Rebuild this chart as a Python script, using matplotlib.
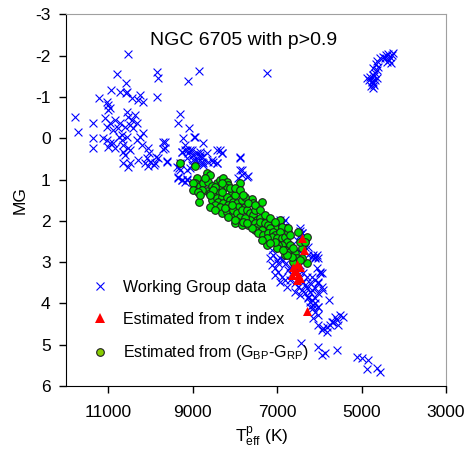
import matplotlib
matplotlib.use("Agg")
import matplotlib.pyplot as plt
from matplotlib.lines import Line2D

plt.rcParams['font.family'] = ['Liberation Sans', 'DejaVu Sans']
plt.rcParams['mathtext.fontset'] = 'custom'
plt.rcParams['mathtext.rm'] = 'Liberation Sans'
plt.rcParams['mathtext.it'] = 'Liberation Sans'
plt.rcParams['axes.unicode_minus'] = False

# ---- Working Group data (blue crosses): Teff, MG ----
wg_teff = [
    # hot upper-left group
    10530, 10790, 10570, 9840, 9820, 10930, 10720, 10550, 10570, 9840,
    10430, 10240, 10290, 10170, 11210, 11020, 11000, 10950, 11000, 11780,
    11710, 11360, 11360, 11360, 11070, 11020, 10950, 10880, 10830, 10550,
    10530, 10430, 10360, 10310, 10410, 10480, 10600, 10720, 10760, 10670,
    10550, 11120, 11020, 10950, 11000, 10880, 10830, 10740, 10670, 10650,
    10530, 10310, 10240, 10170, 10190, 10650, 10600, 10480, 10650, 10480,
    10290, 10530, 10050, 10030, 10080, 10010, 10120, 10050, 9820, 9700,
    9650, 9600, 9910, 9110, 8850, 7240, 9300, 9340, 9080, 9220,
    8940, 9250, 9130, 9180, 9060, 8990, 8940, 8820, 8780, 8750,
    8660, 8520, 8420, 8350, 8300, 9010, 7880, 7830, 7690, 7920,
    9340, 9250, 9130, 8990, 9320, 9300, 8820, 9650, 9700, 9600,
    9864, 9888, 8960, 8750,
    # around the upper main sequence
    9248, 9177, 9106, 9012, 8988, 8893, 8822, 8775, 9130, 8988,
    8870, 8751, 8633, 8538, 8420, 8302, 7876, 9367, 9296, 9130,
    9059, 8420, 7876, 7828, 7710, 9343, 9248, 9177, 9130, 6858,
    6810, 6929, 6858, 6455, 6408, 6526, 6266, 6100,
    # turnoff region
    6929, 6455, 6408, 6337, 6100, 6052, 5982, 5935, 7047, 6929,
    6858, 6976, 6030, 5935, 5910, 6266, 6171, 6100, 6219, 6147,
    6030, 5760, 6503, 6266, 6147, 6030, 6692, 6621, 6503, 6384,
    6290, 6171, 6100, 6030, 6219, 6384, 6976, 6881, 6810, 6929,
    6692, 6574, 6503, 6408, 6337, 6266, 6171, 6100, 6030, 6100,
    6219, 6147, 6030, 6100, 6030, 6147, 7118, 7094, 7000, 6976,
    7118, 6810, 6739, 6645, 6550, 6455, 6337, 6858, 7047, 6574,
    6455, 6290, 6219, 6763, 6929, 7165, 6455, 7047, 6052, 6171,
    5982, 6455, 6408,
    # lower main sequence
    5627, 5508, 5580, 5675, 5745, 5815, 5910, 6030, 5935, 5815,
    5700, 5438, 5555, 6430, 6030, 5935, 5864, 5580, 5106, 4990,
    4846, 4870, 4630, 4560,
    # red clump / giants
    4870, 4799, 4751, 4727, 4680, 4633, 4727, 4680, 4633, 4727,
    4609, 4656, 4633, 4562, 4491, 4420, 4372, 4325, 4278, 4254,
    4349, 4396, 4302, 4443, 4727, 4775, 4703, 4822, 4751, 4703,
]
wg_mg = [
    -2.04, -1.56, -1.34, -1.61, -1.46, -1.17, -1.12, -1.12, -1.10, -1.00,
    -0.98, -1.05, -0.93, -0.88, -0.98, -0.88, -0.81, -0.74, -0.69, -0.52,
    -0.16, -0.38, -0.01, 0.23, -0.50, -0.28, -0.38, -0.21, -0.45, -0.64,
    -0.52, -0.45, -0.57, -0.38, -0.25, -0.33, -0.28, -0.38, -0.25, -0.08,
    -0.04, -0.01, 0.04, 0.11, 0.21, 0.11, 0.23, -0.04, 0.04, 0.16,
    0.23, 0.04, -0.04, -0.13, 0.16, 0.33, 0.40, 0.28, 0.59, 0.59,
    0.52, 0.69, 0.23, 0.35, 0.47, 0.57, 0.59, 0.67, 0.47, 0.08,
    0.23, 0.57, 0.64, -1.39, -1.63, -1.58, -0.59, -0.37, -0.25, 0.00,
    -0.04, 0.33, 0.28, 0.16, 0.28, 0.40, 0.52, 0.45, 0.57, 0.64,
    0.35, 0.57, 0.59, 0.28, 0.35, 0.64, 0.45, 0.76, 0.91, 0.96,
    0.93, 1.00, 1.00, 1.05, 0.71, 0.59, 0.33, 0.08, 0.26, 0.56,
    0.45, 0.60, -0.04, 0.11,
    0.33, 0.28, 0.35, 0.28, 0.40, 0.35, 0.40, 0.45, 0.47, 0.52,
    0.57, 0.59, 0.57, 0.52, 0.28, 0.35, 0.47, 0.69, 0.76, 0.76,
    0.71, 0.59, 0.76, 0.88, 0.93, 0.96, 1.00, 1.05, 0.98, 2.05,
    1.97, 1.97, 2.14, 2.17, 2.29, 2.46, 2.82, 2.89,
    2.09, 2.34, 2.58, 2.63, 2.87, 3.14, 3.23, 3.26, 2.02, 2.20,
    2.40, 2.50, 3.47, 3.60, 3.67, 3.86, 3.91, 3.98, 4.08, 4.10,
    4.08, 3.91, 2.70, 2.63, 2.82, 2.89, 3.11, 3.23, 3.31, 3.26,
    3.36, 3.36, 3.43, 3.50, 3.50, 3.47, 3.23, 3.36, 3.43, 3.47,
    3.43, 3.50, 3.60, 3.67, 3.74, 3.84, 3.67, 3.62, 3.74, 3.86,
    3.96, 4.03, 4.08, 4.20, 4.27, 4.35, 2.70, 2.82, 2.94, 3.01,
    3.06, 3.04, 3.18, 3.31, 3.18, 3.38, 3.55, 2.94, 3.14, 3.72,
    3.79, 3.62, 3.72, 3.60, 2.89, 2.89, 3.06, 3.31, 2.82, 2.87,
    3.26, 2.24, 2.29,
    4.32, 4.27, 4.39, 4.44, 4.52, 4.56, 4.59, 4.52, 4.64, 4.68,
    4.46, 4.34, 4.52, 4.95, 5.05, 5.24, 5.19, 5.12, 5.29, 5.31,
    5.36, 5.60, 5.56, 5.65,
    -1.46, -1.49, -1.37, -1.34, -1.42, -1.46, -1.54, -1.59, -1.66, -1.71,
    -1.73, -1.80, -1.88, -1.95, -1.97, -2.02, -2.05, -1.97, -2.02, -2.07,
    -1.90, -1.85, -1.83, -1.95, -1.22, -1.27, -1.30, -1.42, -1.40, -1.50,
]

# ---- Estimated from tau index (red triangles) ----
tau_teff = [6408, 6360, 6645, 6621, 6526, 6455, 6503, 6455, 6526, 6574, 6290]
tau_mg = [2.41, 2.70, 3.31, 3.11, 3.04, 3.11, 3.31, 3.38, 3.43, 3.21, 4.18]

# ---- Estimated from (GBP-GRP) (green circles) ----
col_teff = [
    9296, 8941, 8657, 8586, 8893, 8941, 8964, 8822, 8751, 8633,
    8657, 8586, 8420, 8349, 8278, 8183, 8160, 8231, 8349, 8420,
    8041, 8065, 7923, 7876, 8846, 8515, 8538, 8420, 8302, 8396,
    8278, 8467, 8586, 8349, 8183, 8112, 8160, 8041, 7947, 7923,
    7828, 7757, 7592, 7568, 7355, 8467, 8302, 8183, 8065, 8041,
    7947, 7876, 7828, 7710, 7639, 7568, 7521, 7473, 7402, 7331,
    7237, 7118, 7047, 6929, 6763, 7450, 7639, 7757, 7923, 7994,
    7828, 7686, 7568, 7805, 7521, 7473, 7402, 7284, 7213, 7165,
    7355, 7521, 7592, 7450, 7331, 7213, 7094, 7047, 7118, 7237,
    6881, 6929, 7000, 6881, 6810, 6763, 6739, 6692, 6881, 6810,
    6692, 6574, 6526, 6621, 6408, 6455, 6337, 6290, 6503, 6739,
    6976, 7000, 7047, 6810, 6645, 6290, 6408, 8988, 8988, 8704,
    8538, 8467, 8302, 8112, 7994, 7757, 7686, 7521, 7402, 7284,
    7165, 7047, 8302, 8515, 8586, 8775, 8870, 8822, 8231, 7994,
    8160, 7876, 7994, 7805, 7710, 8065, 7237, 6692, 6337, 6621,
    6763, 6858, 6455, 7165, 7355,
]
col_mg = [
    0.59, 0.67, 0.84, 0.88, 0.96, 1.08, 1.22, 1.15, 1.08, 1.05,
    1.27, 1.32, 1.08, 1.00, 0.96, 1.05, 1.13, 1.17, 1.22, 1.30,
    1.22, 1.32, 1.30, 1.08, 1.54, 1.37, 1.49, 1.44, 1.42, 1.54,
    1.56, 1.61, 1.66, 1.66, 1.42, 1.49, 1.61, 1.54, 1.56, 1.66,
    1.49, 1.66, 1.46, 1.56, 1.54, 1.73, 1.80, 1.78, 1.85, 1.73,
    1.80, 1.90, 1.73, 1.73, 1.80, 1.85, 1.73, 1.97, 1.93, 2.05,
    2.09, 2.14, 2.17, 1.97, 2.17, 2.14, 1.97, 1.93, 2.02, 2.05,
    2.09, 2.09, 2.09, 2.02, 2.05, 2.14, 2.02, 2.05, 2.09, 2.17,
    2.22, 2.22, 2.17, 2.29, 2.34, 2.29, 2.26, 2.34, 2.39, 2.41,
    2.14, 2.26, 2.41, 2.41, 2.39, 2.51, 2.26, 2.58, 2.58, 2.70,
    2.75, 2.77, 2.89, 2.99, 2.65, 2.51, 2.46, 2.39, 2.26, 2.17,
    2.58, 2.65, 2.51, 2.82, 2.87, 3.01, 2.89, 1.08, 1.25, 0.96,
    1.15, 1.17, 1.30, 1.20, 1.37, 1.42, 1.56, 1.61, 1.73, 1.85,
    1.93, 2.02, 1.08, 1.25, 1.37, 1.25, 1.30, 1.37, 1.68, 1.20,
    1.90, 1.25, 1.97, 1.37, 2.05, 1.61, 2.58, 2.34, 2.51, 2.65,
    2.82, 2.70, 2.94, 2.53, 2.46,
]

x_ticks = [11000, 9000, 7000, 5000, 3000]
y_ticks = [-3, -2, -1, 0, 1, 2, 3, 4, 5, 6]

fig = plt.figure(figsize=(4.7, 4.5), dpi=100)
ax = fig.add_axes([0.1404, 0.1422, 0.8085, 0.8256])

ax.scatter(wg_teff, wg_mg, marker='x', s=32, c='#0000ff', linewidths=0.8, zorder=2)
ax.scatter(col_teff, col_mg, marker='o', s=30, facecolors='#00e000',
           edgecolors='#202020', linewidths=0.8, zorder=3)
ax.scatter(tau_teff, tau_mg, marker='^', s=42, c='#ff0000', linewidths=0, zorder=4)

ax.set_xlim(12000, 3000)
ax.set_ylim(6, -3)
ax.set_xticks(x_ticks)
ax.set_yticks(y_ticks)
ax.tick_params(axis='both', direction='out', length=5, width=1, labelsize=12.5,
               top=False, right=False)
ax.tick_params(axis='x', pad=9)
ax.tick_params(axis='y', pad=6)
for side in ('top', 'right'):
    ax.spines[side].set_color('#a0a0a0')
for side in ('left', 'bottom'):
    ax.spines[side].set_color('black')

ax.set_ylabel('MG', fontsize=12.5)
ax.yaxis.set_label_coords(-0.1, 0.5)
ax.set_xlabel(r'T$_{\rm eff}^{\rm p}$ (K)', fontsize=12.5)
ax.xaxis.set_label_coords(0.515, -0.103)

ax.text(0.466, 0.931, 'NGC 6705 with p>0.9', transform=ax.transAxes,
        ha='center', va='center', fontsize=14)

handles = [
    Line2D([], [], linestyle='none', marker='x', markersize=6, color='#0000ff',
           markeredgewidth=0.8),
    Line2D([], [], linestyle='none', marker='^', markersize=7, color='#ff0000',
           markeredgewidth=0),
    Line2D([], [], linestyle='none', marker='o', markersize=5.5,
           markerfacecolor='#88cc00', markeredgecolor='#202020', markeredgewidth=0.8),
]
labels = ['Working Group data', r'Estimated from τ index',
          r'Estimated from (G$_{\rm BP}$-G$_{\rm RP}$)']
ax.legend(handles, labels, loc='lower left', bbox_to_anchor=(0.02, 0.025),
          frameon=False, fontsize=11.5, labelspacing=1.05, handletextpad=0.7,
          handlelength=1.5)

fig.savefig('out.png', dpi=100)
